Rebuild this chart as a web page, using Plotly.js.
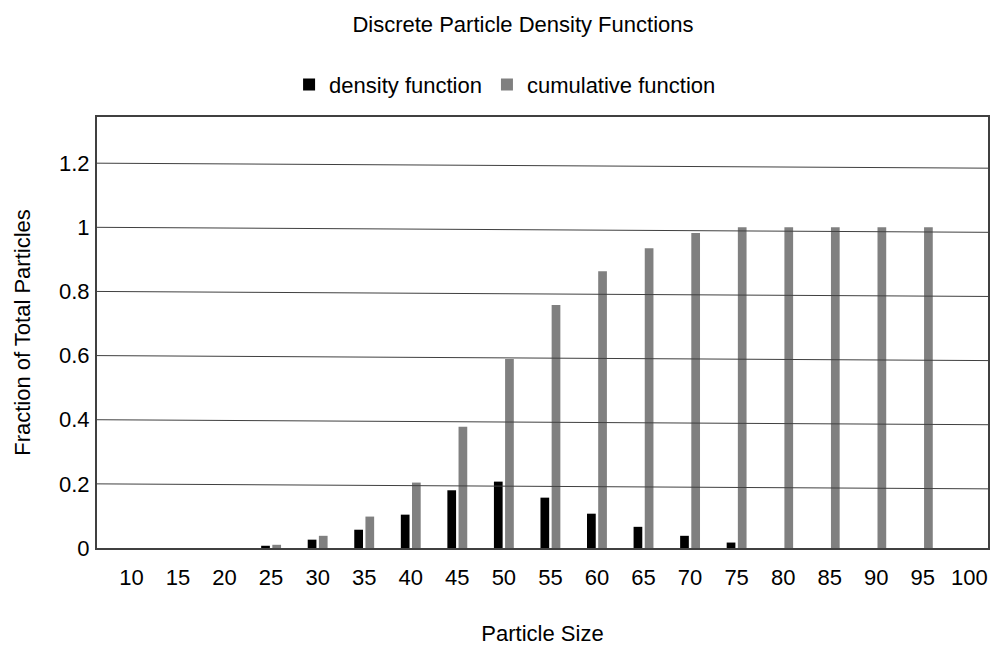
<!DOCTYPE html>
<html>
<head>
<meta charset="utf-8">
<script src="https://cdn.plot.ly/plotly-3.0.1.min.js"></script>
<style>
  html, body { margin: 0; padding: 0; background: #ffffff; }
  #chart { width: 998px; height: 646px; }
</style>
</head>
<body>
<div id="chart"></div>
<script>
// ---- data ----
var particleSizes = ['10','15','20','25','30','35','40','45','50','55','60','65','70','75','80','85','90','95','100'];
var densityValues = [0, 0, 0, 0.007, 0.026, 0.057, 0.104, 0.18, 0.207, 0.157, 0.107, 0.066, 0.038, 0.017, 0, 0, 0, 0, 0];
var cumulativeValues = [0, 0, 0, 0.01, 0.038, 0.098, 0.204, 0.378, 0.589, 0.758, 0.863, 0.935, 0.982, 1, 1, 1, 1, 1, null];
var yTickValues = [0, 0.2, 0.4, 0.6, 0.8, 1, 1.2];
var yTickLabels = ['0', '0.2', '0.4', '0.6', '0.8', '1', '1.2'];

// ---- style ----
var FONT = '"Liberation Sans", Arial, sans-serif';
var FS = 22;
var gridSlant = 0.0156; // gridlines in the reference drop slightly toward the right

var traces = [
  {
    type: 'bar', name: 'density function',
    x: particleSizes, y: densityValues,
    marker: { color: '#000000', line: { width: 0 } },
    hoverinfo: 'x+y'
  },
  {
    type: 'bar', name: 'cumulative function',
    x: particleSizes, y: cumulativeValues,
    marker: { color: '#808080', line: { width: 0 } },
    hoverinfo: 'x+y'
  }
];

var gridShapes = yTickValues.filter(function (v) { return v > 0; }).map(function (v) {
  return {
    type: 'line', xref: 'paper', yref: 'y',
    x0: 0, x1: 1, y0: v, y1: v - gridSlant,
    line: { color: '#404040', width: 1 },
    layer: 'above'
  };
});

var layout = {
  width: 998, height: 646,
  paper_bgcolor: '#ffffff', plot_bgcolor: '#ffffff',
  font: { family: FONT, size: FS, color: '#000000' },
  margin: { l: 97, r: 10, t: 117, b: 98, pad: 0 },
  title: {
    text: 'Discrete Particle Density Functions',
    font: { family: FONT, size: FS, color: '#000000' },
    x: 0.524, xanchor: 'center', xref: 'container',
    y: 0.962, yanchor: 'middle'
  },
  showlegend: true,
  legend: {
    orientation: 'h',
    x: 0.458, xanchor: 'center', xref: 'paper',
    y: 1.075, yanchor: 'middle', yref: 'paper',
    font: { family: FONT, size: FS, color: '#000000' },
    bgcolor: 'rgba(0,0,0,0)',
    itemwidth: 30,
    traceorder: 'normal'
  },
  barmode: 'group',
  bargap: 0.52,
  bargroupgap: 0.22,
  xaxis: {
    type: 'category',
    range: [-0.74, 18.4],
    showgrid: false,
    showline: true, linecolor: '#404040', linewidth: 2, mirror: true,
    ticks: '', ticklabelstandoff: 9,
    tickfont: { family: FONT, size: FS, color: '#000000' },
    title: { text: 'Particle Size', font: { family: FONT, size: FS, color: '#000000' }, standoff: 36 },
    zeroline: false,
    fixedrange: true
  },
  yaxis: {
    range: [0, 1.344],
    tickmode: 'array', tickvals: yTickValues, ticktext: yTickLabels,
    showgrid: false,
    showline: true, linecolor: '#404040', linewidth: 2, mirror: true,
    ticks: '', ticklabelstandoff: 1,
    tickfont: { family: FONT, size: FS, color: '#000000' },
    title: { text: 'Fraction of Total Particles', font: { family: FONT, size: FS, color: '#000000' }, standoff: 22 },
    zeroline: false,
    fixedrange: true
  },
  shapes: gridShapes
};

Plotly.newPlot('chart', traces, layout, { displayModeBar: false, staticPlot: true });
</script>
</body>
</html>
